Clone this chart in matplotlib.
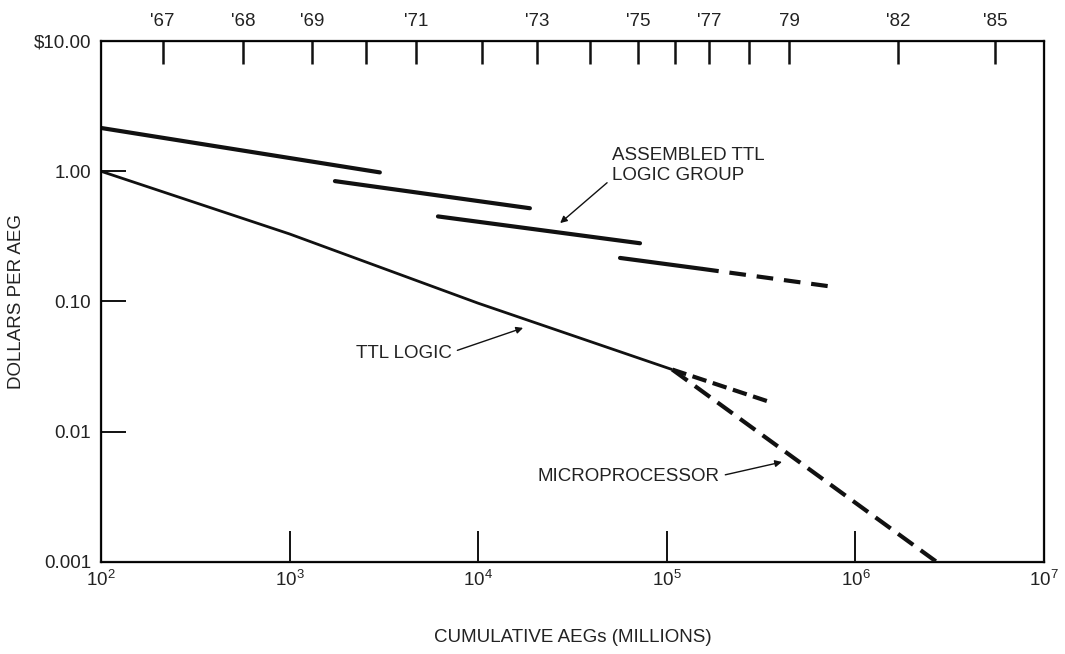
import matplotlib
matplotlib.use("Agg")
import matplotlib.pyplot as plt

plt.rcParams['font.family'] = ['Liberation Sans', 'DejaVu Sans']
plt.rcParams['mathtext.fontset'] = 'custom'
plt.rcParams['mathtext.rm'] = 'Liberation Sans'

# ---------------- data ----------------
x_ticks = [1e2, 1e3, 1e4, 1e5, 1e6, 1e7]
x_tick_labels = [r'$\mathregular{10^{2}}$', r'$\mathregular{10^{3}}$', r'$\mathregular{10^{4}}$',
                 r'$\mathregular{10^{5}}$', r'$\mathregular{10^{6}}$', r'$\mathregular{10^{7}}$']
y_ticks = [10, 1, 0.1, 0.01, 0.001]
y_tick_labels = ['$10.00', '1.00', '0.10', '0.01', '0.001']

year_positions = [212, 566, 1315, 2541, 4680, 10470, 20500, 39200, 70300,
                  110000, 167000, 273000, 445000, 1.68e6, 5.5e6]
year_labels = ["'67", "'68", "'69", "", "'71", "", "'73", "", "'75",
               "", "'77", "", "79", "'82", "'85"]

ttl_x = [100, 1000, 10000, 107000]
ttl_y = [1.0, 0.33, 0.097, 0.03]
ttl_proj_x = [107000, 366000]
ttl_proj_y = [0.03, 0.0166]
micro_x = [107000, 2.7e6]
micro_y = [0.03, 0.001]

asm_seg1_x = [100, 3010]
asm_seg1_y = [2.15, 0.98]
asm_seg2_x = [1740, 18800]
asm_seg2_y = [0.84, 0.52]
asm_seg3_x = [6120, 72100]
asm_seg3_y = [0.45, 0.28]
asm_seg4_x = [56500, 154000]
asm_seg4_y = [0.216, 0.178]
asm_proj_x = [154000, 780000]
asm_proj_y = [0.178, 0.129]

# ---------------- figure ----------------
fig = plt.figure(figsize=(10.65, 6.54), dpi=100)
ax = fig.add_axes([0.0948, 0.1407, 0.8855, 0.7966])
ax.set_xscale('log')
ax.set_yscale('log')
ax.set_xlim(1e2, 1e7)
ax.set_ylim(1e-3, 10)

ink = '#111111'
txt = '#222222'

ax.plot(ttl_x, ttl_y, color=ink, lw=2.0, solid_capstyle='butt')
ax.plot(ttl_proj_x, ttl_proj_y, color=ink, lw=3.0, dashes=(3.5, 1.6))
ax.plot(micro_x, micro_y, color=ink, lw=3.0, dashes=(4.5, 2.2))

for sx, sy in [(asm_seg1_x, asm_seg1_y), (asm_seg2_x, asm_seg2_y),
               (asm_seg3_x, asm_seg3_y), (asm_seg4_x, asm_seg4_y)]:
    ax.plot(sx, sy, color=ink, lw=3.0, solid_capstyle='round')
ax.plot(asm_proj_x, asm_proj_y, color=ink, lw=3.0, dashes=(4.0, 2.6))

# axis styling
for s in ax.spines.values():
    s.set_linewidth(1.6)
    s.set_color(ink)

ax.set_xticks(x_ticks)
ax.set_xticklabels(x_tick_labels)
ax.set_yticks(y_ticks)
ax.set_yticklabels(y_tick_labels)
ax.minorticks_off()
ax.tick_params(axis='x', direction='in', length=22, width=1.4, color=ink,
               labelsize=13.5, labelcolor=txt, pad=6)
ax.tick_params(axis='y', direction='in', length=18, width=1.4, color=ink,
               labelsize=13.5, labelcolor=txt, pad=7)

top = ax.twiny()
top.set_xscale('log')
top.set_xlim(ax.get_xlim())
top.set_xticks(year_positions)
top.set_xticklabels(year_labels)
top.minorticks_off()
top.tick_params(axis='x', direction='in', length=16.5, width=1.8, color=ink,
                labelsize=13.5, labelcolor=txt, pad=8)

ax.set_xlabel('CUMULATIVE AEGs (MILLIONS)', fontsize=13.5, color=txt, labelpad=28)
ax.set_ylabel('DOLLARS PER AEG', fontsize=13.5, color=txt, labelpad=6)

arrow = dict(arrowstyle='-|>', color=ink, lw=1.0, mutation_scale=10,
             shrinkA=2, shrinkB=0)

ax.annotate('ASSEMBLED TTL\nLOGIC GROUP', xy=(27200, 0.40), xytext=(51200, 1.107),
            ha='left', va='center', fontsize=13.5, color=txt, linespacing=1.25,
            arrowprops=dict(arrow, relpos=(0.0, 0.15)))
ax.annotate('TTL LOGIC', xy=(17300, 0.0627), xytext=(7260, 0.0396),
            ha='right', va='center', fontsize=13.5, color=txt,
            arrowprops=dict(arrow, relpos=(1.0, 0.6)))
ax.annotate('MICROPROCESSOR', xy=(4.08e5, 0.00586), xytext=(1.91e5, 0.0045),
            ha='right', va='center', fontsize=13.5, color=txt,
            arrowprops=dict(arrow, relpos=(1.0, 0.55)))

fig.savefig('out.png', dpi=100)
